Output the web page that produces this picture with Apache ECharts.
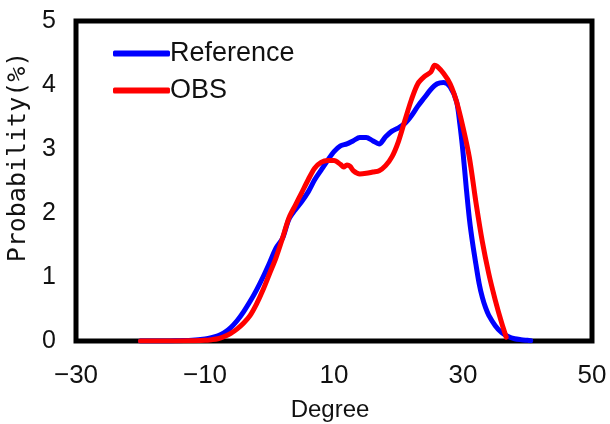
<!DOCTYPE html>
<html>
<head>
<meta charset="utf-8">
<script src="https://cdn.jsdelivr.net/npm/echarts@6/dist/echarts.min.js"></script>
<style>
  html, body { margin: 0; padding: 0; background: #fff; }
  #chart { width: 610px; height: 424px; }
</style>
</head>
<body>
<div id="chart"></div>
<script>
// Probability distribution of degree values (%), two sources
const seriesNames = ['Reference', 'OBS'];

const refDeg = [-20, -18, -16, -14, -12, -10, -9, -8, -7, -6, -5, -4, -3, -2, -1, 0, 1, 2, 3, 4,
  5, 6, 7, 8, 9, 10, 11, 12, 13, 14, 15, 16, 17, 18, 19, 20, 21, 22, 23, 24, 25, 26, 27, 28, 29,
  29.5, 30, 30.5, 31, 31.5, 32, 32.5, 33, 33.5, 34, 35, 36, 37, 38, 39, 40, 40.5];
const refVal = [0, 0, 0, 0.005, 0.01, 0.03, 0.05, 0.08, 0.13, 0.21, 0.32, 0.46, 0.62, 0.8, 1.0, 1.22, 1.45, 1.6, 1.9, 2.05,
  2.18, 2.33, 2.52, 2.67, 2.82, 2.96, 3.05, 3.08, 3.13, 3.18, 3.18, 3.13, 3.08, 3.19, 3.28, 3.33, 3.40, 3.52, 3.67, 3.80, 3.93, 4.02, 4.04, 3.97, 3.74,
  3.4, 2.95, 2.4, 1.9, 1.52, 1.2, 0.9, 0.68, 0.52, 0.4, 0.24, 0.13, 0.07, 0.035, 0.02, 0.01, 0.005];

const obsDeg = [-20, -16, -12, -10, -9, -8, -7, -6, -5, -4, -3, -2, -1, 0, 1, 2, 3, 4, 5, 6, 7, 8, 9, 10,
  11, 11.5, 12, 12.5, 13, 14, 15, 16, 17, 18, 19, 20, 21, 22, 23, 24, 25, 25.6, 26, 27, 28, 29, 30,
  31, 32, 33, 34, 35, 36, 36.7];
const obsVal = [0, 0, 0.005, 0.01, 0.02, 0.035, 0.07, 0.12, 0.19, 0.28, 0.40, 0.58, 0.8, 1.05, 1.3, 1.6, 1.92, 2.12, 2.32, 2.52, 2.70, 2.79, 2.82, 2.82,
  2.76, 2.72, 2.75, 2.73, 2.66, 2.61, 2.62, 2.64, 2.66, 2.74, 2.88, 3.12, 3.45, 3.77, 4.02, 4.13, 4.2, 4.31, 4.29, 4.18, 4.02, 3.74, 3.34,
  2.86, 2.17, 1.55, 1.05, 0.64, 0.28, 0.06];

const xTicks = [-30, -10, 10, 30, 50];
const yTicks = [0, 1, 2, 3, 4, 5];

const pairs = (xs, ys) => xs.map((x, i) => [x, ys[i]]);
const sansFont = "'Liberation Sans', Arial, sans-serif";
const monoFont = "'DejaVu Sans Mono', monospace";

const chart = echarts.init(document.getElementById('chart'), null, { renderer: 'canvas' });

chart.setOption({
  animation: false,
  backgroundColor: '#ffffff',
  grid: {
    left: 76, right: 18, top: 21, bottom: 83,
    outerBoundsMode: 'none', containLabel: false,
    show: true, borderColor: '#000000', borderWidth: 5, backgroundColor: 'transparent'
  },
  legend: {
    orient: 'vertical',
    left: 108, top: 35,
    icon: 'roundRect',
    itemWidth: 57, itemHeight: 6, itemGap: 10,
    textStyle: { fontFamily: sansFont, fontSize: 27, color: '#111', lineHeight: 26, padding: [0, 0, 0, -5] },
    data: seriesNames
  },
  xAxis: {
    type: 'value',
    min: xTicks[0], max: xTicks[xTicks.length - 1], interval: xTicks[1] - xTicks[0],
    name: 'Degree', nameLocation: 'middle', nameGap: 57,
    nameTextStyle: { fontFamily: sansFont, fontSize: 24, color: '#111', padding: [0, 8, 0, 0] },
    axisLine: { show: false }, axisTick: { show: false }, splitLine: { show: false },
    axisLabel: {
      margin: 22, fontFamily: sansFont, fontSize: 26, color: '#111',
      formatter: v => String(v).replace('-', '\u2212')
    }
  },
  yAxis: {
    type: 'value',
    min: yTicks[0], max: yTicks[yTicks.length - 1], interval: 1,
    name: 'Probability(%)', nameLocation: 'middle', nameGap: 36,
    nameTextStyle: { fontFamily: monoFont, fontSize: 25, color: '#111', padding: [0, 0, 0, 48] },
    axisLine: { show: false }, axisTick: { show: false }, splitLine: { show: false },
    axisLabel: { margin: 20, fontFamily: sansFont, fontSize: 25, color: '#111' }
  },
  series: [
    {
      name: seriesNames[0], type: 'line', data: pairs(refDeg, refVal),
      showSymbol: false, smooth: 0.3, z: 2,
      lineStyle: { color: '#0000ff', width: 5, cap: 'round', join: 'round' },
      itemStyle: { color: '#0000ff' }
    },
    {
      name: seriesNames[1], type: 'line', data: pairs(obsDeg, obsVal),
      showSymbol: false, smooth: 0.3, z: 3,
      lineStyle: { color: '#ff0000', width: 5, cap: 'round', join: 'round' },
      itemStyle: { color: '#ff0000' }
    }
  ]
});
</script>
</body>
</html>
